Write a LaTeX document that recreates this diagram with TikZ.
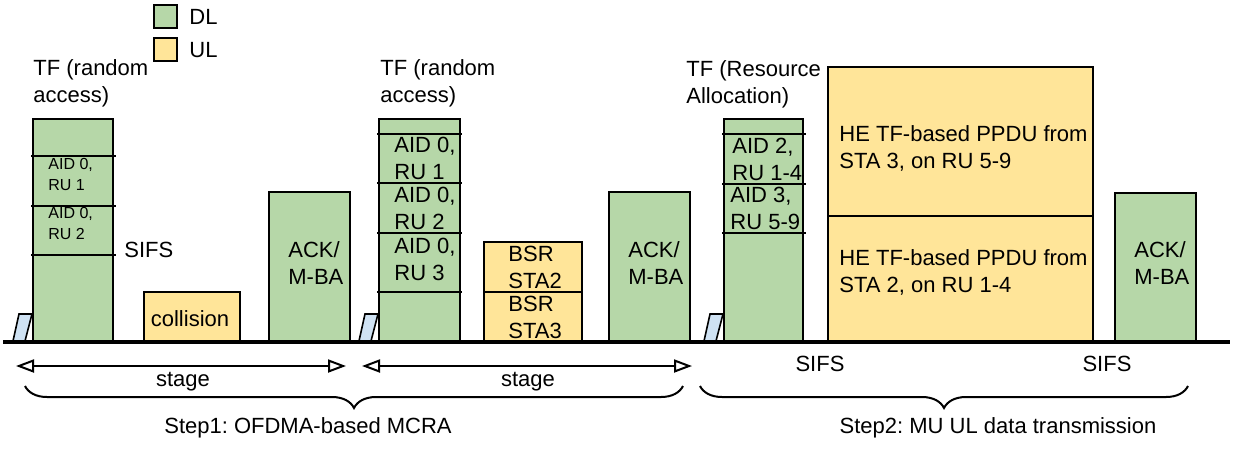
\documentclass[tikz,border=0pt]{standalone}
\usepackage{fontspec}
\setmainfont{Liberation Sans}
\frenchspacing
\usetikzlibrary{arrows.meta,decorations.pathreplacing}
\definecolor{dlgreen}{HTML}{B6D7A8}
\definecolor{ulyellow}{HTML}{FFE599}
\definecolor{preblue}{HTML}{CFE2F3}
\tikzset{
	dl/.style={draw=black, line width=1pt, fill=dlgreen},
	ul/.style={draw=black, line width=1pt, fill=ulyellow},
	pre/.style={draw=black, line width=0.8pt, fill=preblue},
	rusep/.style={line width=1pt},
	txt/.style={inner sep=0pt, anchor=west, align=left, font=\fontsize{11}{13.5}\selectfont},
	smalltxt/.style={txt, font=\fontsize{8}{10.5}\selectfont},
	lbl/.style={inner sep=0pt, font=\fontsize{11}{13.5}\selectfont},
	stagearrow/.style={line width=1pt, {Triangle[fill=white, length=9pt, width=6.5pt]}-{Triangle[fill=white, length=9pt, width=6.5pt]}},
	stepbrace/.style={decorate, decoration={brace, mirror, amplitude=11pt}, line width=1pt}
}

\begin{document}
\begin{tikzpicture}[x=0.5pt, y=-0.5pt]
		%%%%% START %%%%%
		\useasboundingbox (0,0) rectangle (1235,451);
		
		% legend
		\draw[dl] (154,5) rectangle (177,28);
		\node[txt] (dllbl) at (189,17) {DL};
		\draw[ul] (154,38) rectangle (177,61);
		\node[txt] (ullbl) at (189,50) {UL};
		
		% small blue slots in front of each TF
		\foreach \L in {33,379,724}
			\draw[pre] (\L-20,341) -- (\L-14,314) -- (\L-1,314) -- (\L-8,341) -- cycle;
		
		% stage 1
		\node[txt] (tfa) at (33,83) {TF (random\\access)};
		\draw[dl] (33,119) rectangle (113,342);
		\foreach \y in {156,206,255}
			\draw[rusep] (31,\y) -- (116,\y);
		\node[smalltxt] (tfaru1) at (48,174) {AID 0,\\RU 1};
		\node[smalltxt] (tfaru2) at (48,223) {AID 0,\\RU 2};
		\node[txt] (sifsa) at (124,250) {SIFS};
		
		\draw[ul] (144,292) rectangle (240,342);
		\node[lbl] (coll) at (190,319) {collision};
		
		\draw[dl] (269,192) rectangle (350,342);
		\node[txt] (acka) at (288,263) {ACK/\\M-BA};
		
		% stage 2
		\node[txt] (tfb) at (380,83) {TF (random\\access)};
		\draw[dl] (379,119) rectangle (460,342);
		\foreach \y in {134,183,233,292}
			\draw[rusep] (377,\y) -- (462,\y);
		\node[txt] (tfbru1) at (394,158) {AID 0,\\RU 1};
		\node[txt] (tfbru2) at (394,208) {AID 0,\\RU 2};
		\node[txt] (tfbru3) at (394,259) {AID 0,\\RU 3};
		
		\draw[ul] (484,242) rectangle (582,342);
		\draw[rusep] (484,292) -- (582,292);
		\node[txt] (bsr2) at (508,267) {BSR\\STA2};
		\node[txt] (bsr3) at (508,317) {BSR\\STA3};
		
		\draw[dl] (609,192) rectangle (690,342);
		\node[txt] (ackb) at (628,263) {ACK/\\M-BA};
		
		% step 2
		\node[txt] (tfc) at (686,84) {TF (Resource\\Allocation)};
		\draw[dl] (724,119) rectangle (803,342);
		\foreach \y in {134,184,233}
			\draw[rusep] (722,\y) -- (806,\y);
		\node[txt] (tfcsta2) at (732,159) {AID 2,\\RU 1-4};
		\node[txt] (tfcsta3) at (730,208) {AID 3,\\RU 5-9};
		
		\draw[ul] (828,67) rectangle (1093,342);
		\draw[rusep] (828,216) -- (1093,216);
		\node[txt] (ppdu3) at (839,148) {HE TF-based PPDU from\\STA 3, on RU 5-9};
		\node[txt] (ppdu2) at (839,272) {HE TF-based PPDU from\\STA 2, on RU 1-4};
		
		\draw[dl] (1115,193) rectangle (1196,342);
		\node[txt] (ackc) at (1134,263) {ACK/\\M-BA};
		
		% time axis
		\draw[line width=2pt] (3,342) -- (1230,342);
		
		% stages and steps
		\coordinate (sta) at (16,366);
		\coordinate (stb) at (346,366);
		\coordinate (stc) at (362,366);
		\coordinate (std) at (692,366);
		\draw[stagearrow] (sta) -- (stb);
		\draw[stagearrow] (stc) -- (std);
		\node[lbl] (stagea) at (183,382) {stage};
		\node[lbl] (stageb) at (528,382) {stage};
		\node[lbl] (sifsb) at (820,364) {SIFS};
		\node[lbl] (sifsc) at (1107,364) {SIFS};
		
		\draw[stepbrace] (25,386) -- (683,386);
		\draw[stepbrace] (700,386) -- (1188,386);
		\node[lbl] (stepa) at (308,428) {Step1: OFDMA-based MCRA};
		\node[lbl] (stepb) at (998,428) {Step2: MU UL data transmission};
		
		%%%%% END %%%%%
	\end{tikzpicture}
\end{document}
